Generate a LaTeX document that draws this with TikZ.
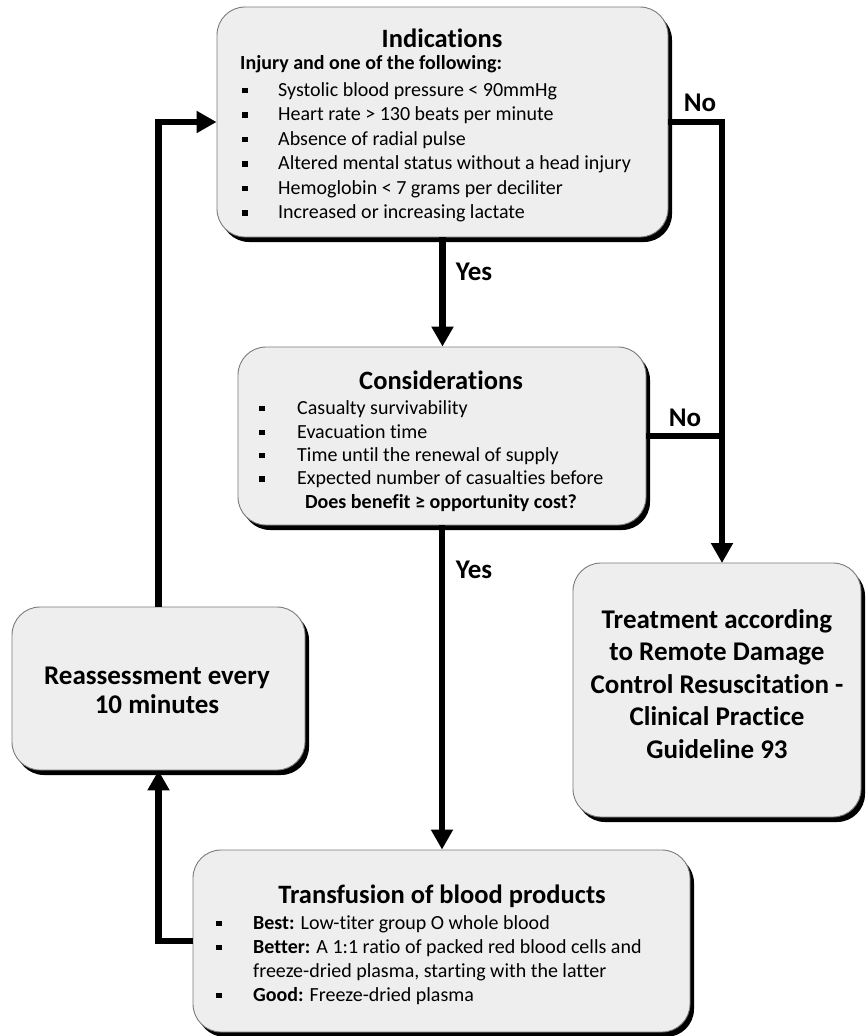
\documentclass[tikz,border=0pt]{standalone}
\usepackage{fontspec}
\setmainfont{Carlito}[Ligatures=NoCommon]
\usetikzlibrary{arrows.meta,shadows,calc}
\definecolor{boxfill}{HTML}{EEEEEE}
\definecolor{boxline}{HTML}{7A7A7A}
\newcommand{\sqbul}[1]{\makebox[#1][l]{\raisebox{3pt}{\rule{5.5pt}{5.5pt}}}}
\tikzset{
  box/.style={draw=boxline, line width=0.9pt, fill=boxfill, rounded corners=28pt,
    inner sep=0pt, drop shadow={shadow xshift=4pt,shadow yshift=-5pt,fill=black,opacity=1}},
  title/.style={font=\fontsize{26.5}{31}\selectfont\bfseries, anchor=base, inner sep=0pt},
  body/.style={font=\fontsize{20}{24.4}\selectfont, anchor=base west, inner sep=0pt},
  bigtext/.style={font=\fontsize{27}{#1}\selectfont\bfseries, align=center, inner sep=0pt},
  lab/.style={font=\fontsize{27}{31}\selectfont\bfseries, inner sep=0pt},
  wire/.style={line width=6.5pt},
  arr/.style={line width=6.5pt, -{Triangle[width=21pt,length=20pt]}}
}
\begin{document}
\begin{tikzpicture}[x=1pt,y=-1pt]
\useasboundingbox (0,0) rectangle (865,1036);
% boxes
\node[box, minimum width=451pt, minimum height=230pt] (ind) at (442.5,122) {};
\node[box, minimum width=408pt, minimum height=178pt] (cons) at (442,436) {};
\node[box, minimum width=288pt, minimum height=254pt] (treat) at (717,690) {};
\node[box, minimum width=293pt, minimum height=163pt] (reas) at (158.5,688.5) {};
\node[box, minimum width=497pt, minimum height=182pt] (trans) at (441.5,941) {};

% Indications text
\node[title] (indt) at (442,47) {Indications};
\node[body, font=\fontsize{20}{24.4}\selectfont\bfseries] (ind0) at (240,69) {Injury and one of the following:};
\node[body] (ind1) at (242,96) {\sqbul{36pt}Systolic blood pressure < 90mmHg};
\node[body] (ind2) at (242,120.5) {\sqbul{36pt}Heart rate > 130 beats per minute};
\node[body] (ind3) at (242,145) {\sqbul{36pt}Absence of radial pulse};
\node[body] (ind4) at (242,169.5) {\sqbul{36pt}Altered mental status without a head injury};
\node[body] (ind5) at (242,194) {\sqbul{36pt}Hemoglobin < 7 grams per deciliter};
\node[body] (ind6) at (242,218.5) {\sqbul{36pt}Increased or increasing lactate};

% Considerations text
\node[title] (const) at (441,389) {Considerations};
\node[body] (cons1) at (259,414) {\sqbul{38pt}Casualty survivability};
\node[body] (cons2) at (259,438) {\sqbul{38pt}Evacuation time};
\node[body] (cons3) at (259,461) {\sqbul{38pt}Time until the renewal of supply};
\node[body] (cons4) at (259,484.5) {\sqbul{38pt}Expected number of casualties before};
\node[title, font=\fontsize{20}{24.4}\selectfont\bfseries] (cons5) at (441,508) {Does benefit ≥ opportunity cost?};

% Treatment text
\node[bigtext=32.5] (treatt) at (717,684) {Treatment according\\to Remote Damage\\Control Resuscitation -\\Clinical Practice\\Guideline 93};

% Reassessment text
\node[bigtext=29] (reast) at (157,690) {Reassessment every\\10 minutes};

% Transfusion text
\node[title] (transt) at (442,903) {Transfusion of blood products};
\node[body] (tr1) at (216,929) {\sqbul{37pt}\textbf{Best:} Low-titer group O whole blood};
\node[body] (tr2) at (216,953) {\sqbul{37pt}\textbf{Better:} A 1:1 ratio of packed red blood cells and};
\node[body] (tr3) at (253,977) {freeze-dried plasma, starting with the latter};
\node[body] (tr4) at (216,1001) {\sqbul{37pt}\textbf{Good:} Freeze-dried plasma};

% connectors
\coordinate (nocol) at (722,563);
\draw[arr] (ind.south) -- (ind.south |- cons.north);
\draw[arr] (cons.south) -- (cons.south |- trans.north);
\draw[arr] (ind.east) -| (nocol);
\draw[wire] (cons.east) -- (cons.east -| nocol);
\draw[arr] (trans.west) -| (reas.south);
\draw[arr] (reas.north) |- (ind.west);

% labels
\node[lab] (yes1) at (474,272) {Yes};
\node[lab] (yes2) at (474,570) {Yes};
\node[lab] (no1) at (700,103) {No};
\node[lab] (no2) at (685,418) {No};
\end{tikzpicture}
\end{document}
